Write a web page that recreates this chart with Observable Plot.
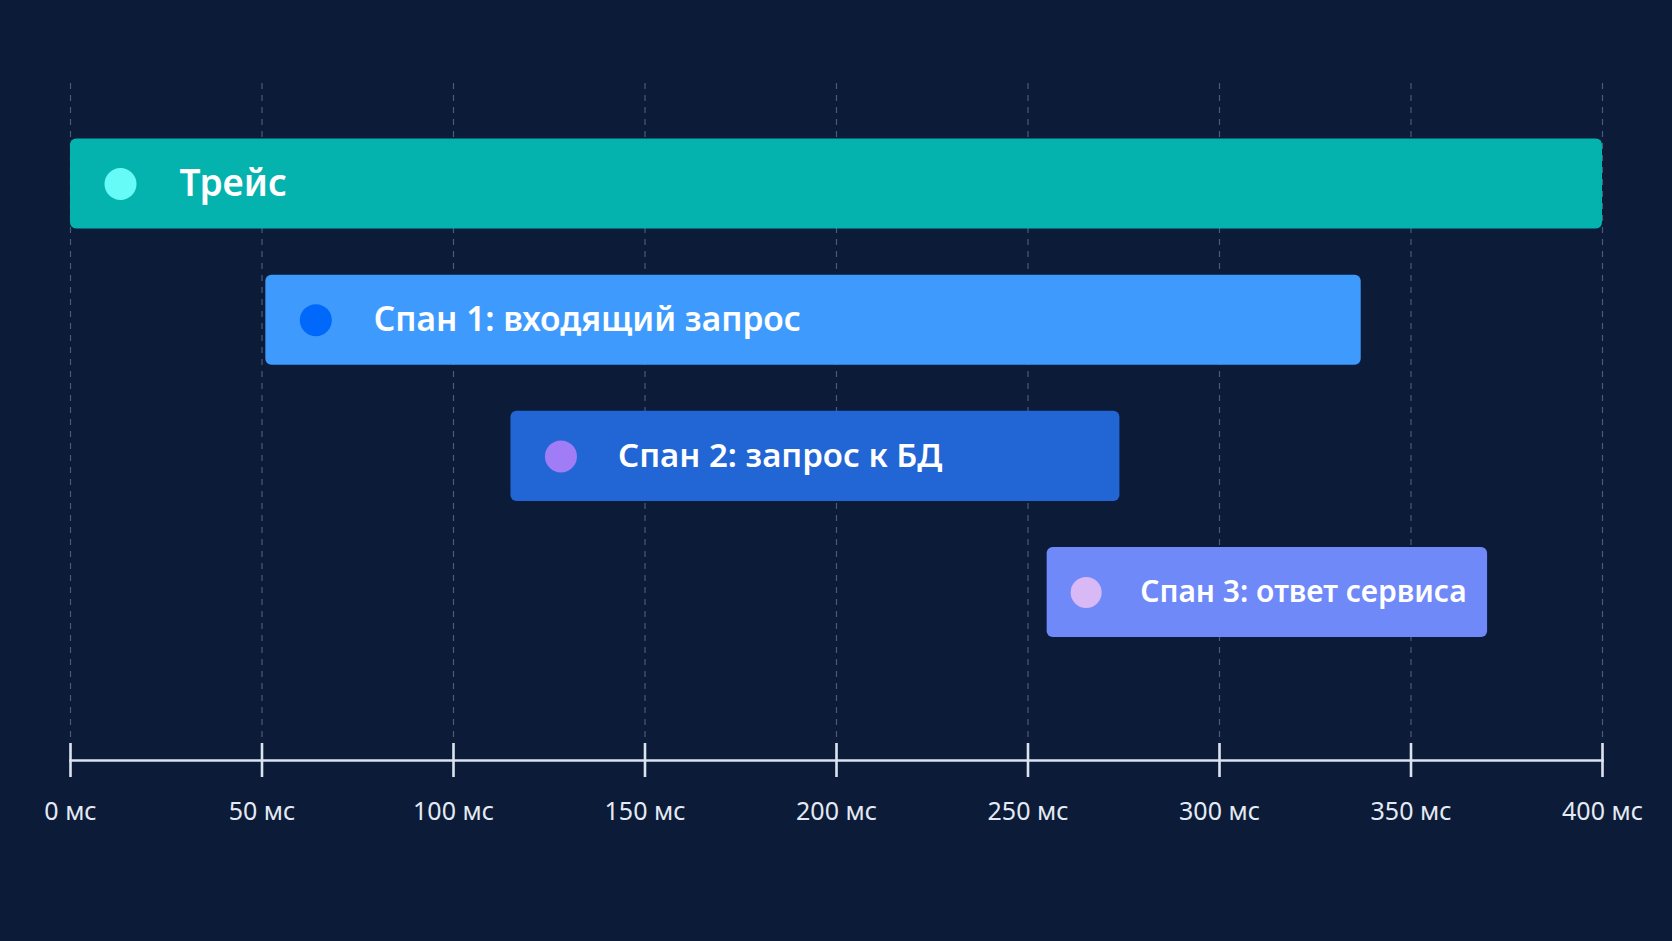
<!DOCTYPE html>
<html><head><meta charset="utf-8">
<script src="https://cdn.jsdelivr.net/npm/d3@7"></script>
<script src="https://cdn.jsdelivr.net/npm/@observablehq/plot@0.6"></script>
<style>html,body{margin:0;padding:0;background:#0b1b38;overflow:hidden}</style>
</head><body><div id="chart"></div>
<script>
const spanNames = ["Трейс", "Спан 1: входящий запрос", "Спан 2: запрос к БД", "Спан 3: ответ сервиса"];
const spanStart = [0, 51, 115, 255];
const spanEnd = [400, 337, 274, 370];
const barColors = ["#04b2ae", "#3e9bfd", "#2265d5", "#6f89f9"];
const dotColors = ["#67fbf8", "#0068fa", "#a07cf6", "#d9b9f5"];
const tickValues = [0, 50, 100, 150, 200, 250, 300, 350, 400];
const tickUnit = "мс";

const rows = spanNames.map((name, i) => ({name, start: spanStart[i], end: spanEnd[i], bar: barColors[i], dot: dotColors[i], i}));
const font = "'Noto Sans', 'DejaVu Sans', sans-serif";

const chart = Plot.plot({
  width: 1672,
  height: 941,
  marginTop: 83,
  marginBottom: 181,
  marginLeft: 70,
  marginRight: 70,
  style: {background: "#0b1b38", fontFamily: font, overflow: "visible"},
  x: {domain: [0, 400], axis: null},
  y: {domain: spanNames, axis: null, paddingInner: 0.339, paddingOuter: 0.655, align: 0.311, round: false},
  color: {type: "identity"},
  marks: [
    Plot.gridX(tickValues, {stroke: "#7d8fb0", strokeOpacity: 0.55, strokeWidth: 1.2, strokeDasharray: "6,6"}),
    Plot.frame({anchor: "bottom", stroke: "#dbe3f0", strokeWidth: 2.6}),
    Plot.axisX(tickValues, {anchor: "bottom", tickSize: 34, dy: -17, tickPadding: 25, stroke: "#dbe3f0", strokeWidth: 2.6,
      fill: "#e4eaf4", fontSize: 25, tickFormat: d => `${d} ${tickUnit}`, label: null}),
    Plot.barX(rows, {x1: "start", x2: "end", y: "name", fill: "bar", rx: 6}),
    Plot.dot(rows.filter(d => d.i < 3), {x: "start", y: "name", fill: "dot", r: 16, dx: 50}),
    Plot.dot(rows.filter(d => d.i === 3), {x: "start", y: "name", fill: "dot", r: 15.5, dx: 39}),
    Plot.text(rows.filter(d => d.i === 0), {x: "start", y: "name", text: "name", dx: 109, textAnchor: "start", lineAnchor: "middle",
      fill: "#ffffff", fontSize: 37, fontWeight: 600}),
    Plot.text(rows.filter(d => d.i === 1), {x: "start", y: "name", text: "name", dx: 108, textAnchor: "start", lineAnchor: "middle",
      fill: "#ffffff", fontSize: 33.5, fontWeight: 600}),
    Plot.text(rows.filter(d => d.i === 2), {x: "start", y: "name", text: "name", dx: 107, textAnchor: "start", lineAnchor: "middle",
      fill: "#ffffff", fontSize: 33, fontWeight: 600}),
    Plot.text(rows.filter(d => d.i === 3), {x: "start", y: "name", text: "name", dx: 93, textAnchor: "start", lineAnchor: "middle",
      fill: "#ffffff", fontSize: 30, fontWeight: 600})
  ]
});
document.getElementById("chart").append(chart);
</script>
</body></html>
